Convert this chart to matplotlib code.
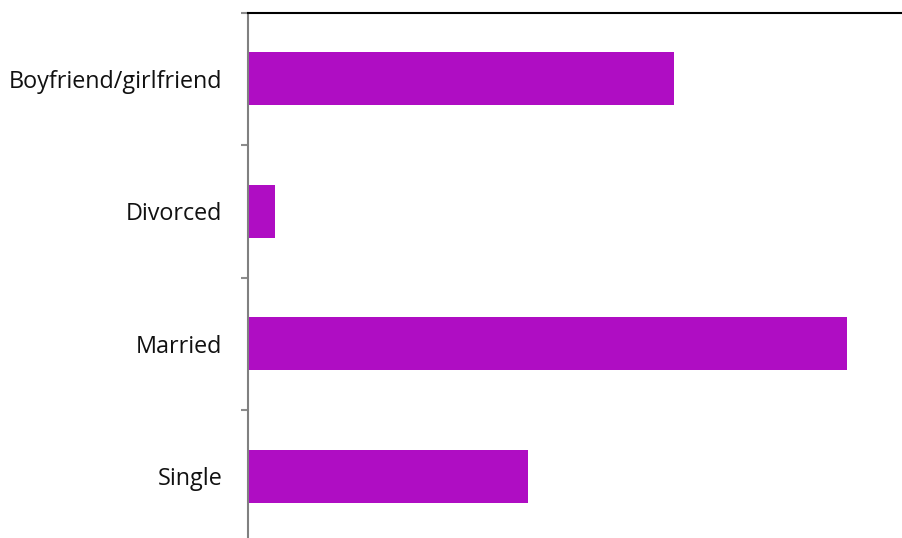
import matplotlib
matplotlib.use("Agg")
import matplotlib.pyplot as plt
from matplotlib.ticker import FixedLocator

categories = ["Boyfriend/girlfriend", "Divorced", "Married", "Single"]
counts = [32, 2, 45, 21]

W, H = 903, 538
fig = plt.figure(figsize=(W / 100, H / 100), dpi=100)

left_px, top_px = 248.5, 12.5
unit_px = 13.3
xmax = 50
width_px = xmax * unit_px
height_px = 530
ax = fig.add_axes([left_px / W, (H - top_px - height_px) / H, width_px / W, height_px / H])

y = list(range(len(categories)))
ax.barh(y, counts, height=0.4, color="#AF0DC3", edgecolor="none")

ax.set_xlim(0, xmax)
ax.set_ylim(len(categories) - 0.5, -0.5)

ax.set_yticks(y)
ax.set_yticklabels(categories, fontsize=16.8, fontfamily="Open Sans", color="#111111")
ax.yaxis.set_minor_locator(FixedLocator([i - 0.5 for i in range(len(categories) + 1)]))
ax.tick_params(axis="y", which="major", length=0, pad=19)
ax.tick_params(axis="y", which="minor", length=5, width=1.5, color="#8c8c8c", direction="out")
ax.set_xticks([])

for s in ("right", "bottom"):
    ax.spines[s].set_visible(False)
ax.spines["left"].set_color("#808080")
ax.spines["left"].set_linewidth(1.5)
ax.spines["top"].set_color("black")
ax.spines["top"].set_linewidth(1.5)

fig.savefig("out.png", dpi=100)
